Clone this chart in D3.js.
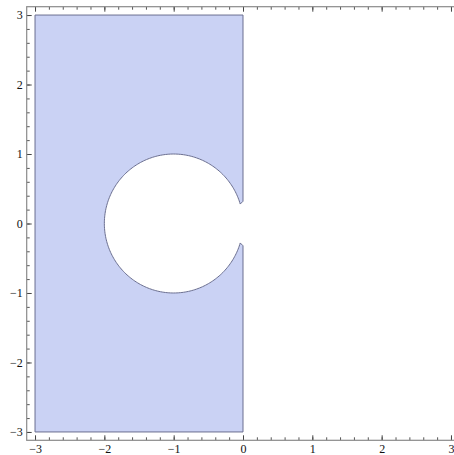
<!DOCTYPE html>
<html>
<head>
<meta charset="utf-8">
<script src="https://cdn.jsdelivr.net/npm/d3@7"></script>
<style>
  body { margin: 0; background: #fff; }
  .tick text { font-family: "Liberation Serif", "DejaVu Serif", serif; font-size: 12px; fill: #111; }
</style>
</head>
<body>
<svg width="454" height="455"></svg>
<script>
// region: rectangle minus a disk, with the sampling gap near the tangent point
const rectX = [-3, 0];
const rectY = [-3, 3];
const diskCenter = [-1, 0];
const diskRadius = 1;
const gapY = [0.28, 0.32];   // where the arc meets the right edge (tip, edge end)
const ticksX = [-3, -2, -1, 0, 1, 2, 3];
const ticksY = [-3, -2, -1, 0, 1, 2, 3];

const svg = d3.select('svg'),
    width = +svg.attr('width'),
    height = +svg.attr('height');

// plot range -3..3 with 2% padding, frame goes past the right edge of the picture
const pad = 0.12;
const x = d3.scaleLinear().domain([-3 - pad, 3 + pad]).range([26.7, 459.3]);
const y = d3.scaleLinear().domain([-3 - pad, 3 + pad]).range([440.3, 6.7]);

// build boundary
var tip = Math.asin(gapY[0] / diskRadius);
var pts = [];
pts.push([rectX[0], rectY[0]]);
pts.push([rectX[1], rectY[0]]);
pts.push([rectX[1], -gapY[1]]);
var n = 240;
for (var i = 0; i <= n; i++) {
    var t = -tip - (2 * Math.PI - 2 * tip) * i / n;
    pts.push([diskCenter[0] + diskRadius * Math.cos(t), diskCenter[1] + diskRadius * Math.sin(t)]);
}
pts.push([rectX[1], gapY[1]]);
pts.push([rectX[1], rectY[1]]);
pts.push([rectX[0], rectY[1]]);

var line = d3.line().x(d => x(d[0])).y(d => y(d[1])).curve(d3.curveLinearClosed);

svg.append('path')
    .attr('d', line(pts))
    .attr('fill', '#cad2f4')
    .attr('stroke', '#6b6f90')
    .attr('stroke-width', 1)
    .attr('stroke-linejoin', 'miter');

// frame with inward ticks
var minor = d3.range(-3, 3.001, 0.2).map(v => Math.round(v * 10) / 10);

function frameAxis(axis, transform, labels, majors) {
    var g = svg.append('g').attr('transform', transform);
    g.call(axis.tickValues(minor).tickSize(3).tickFormat(''));
    g.selectAll('.domain').remove();
    g.selectAll('.tick line').attr('stroke', '#555');
    var g2 = svg.append('g').attr('transform', transform);
    g2.call(axis.tickValues(majors).tickSize(5)
        .tickFormat(labels ? (d => d < 0 ? '\u2212' + Math.abs(d) : d) : ''));
    g2.selectAll('.domain').remove();
    g2.selectAll('.tick line').attr('stroke', '#444');
    return g2;
}

// bottom: ticks point up
var bx = frameAxis(d3.axisTop(x), 'translate(0,' + y.range()[0] + ')', true, ticksX);
bx.selectAll('.tick text').attr('y', 4).attr('dy', '0.71em');
// top: ticks point down
frameAxis(d3.axisBottom(x), 'translate(0,' + y.range()[1] + ')', false, ticksX);
// left: ticks point right
var ly = frameAxis(d3.axisRight(y), 'translate(' + x.range()[0] + ',0)', true, ticksY);
ly.selectAll('.tick text').attr('x', -4).attr('text-anchor', 'end');

// frame lines
svg.append('rect')
    .attr('x', x.range()[0]).attr('y', y.range()[1])
    .attr('width', x.range()[1] - x.range()[0])
    .attr('height', y.range()[0] - y.range()[1])
    .attr('fill', 'none')
    .attr('stroke', '#8a8a8a')
    .attr('stroke-width', 1.2);
</script>
</body>
</html>
